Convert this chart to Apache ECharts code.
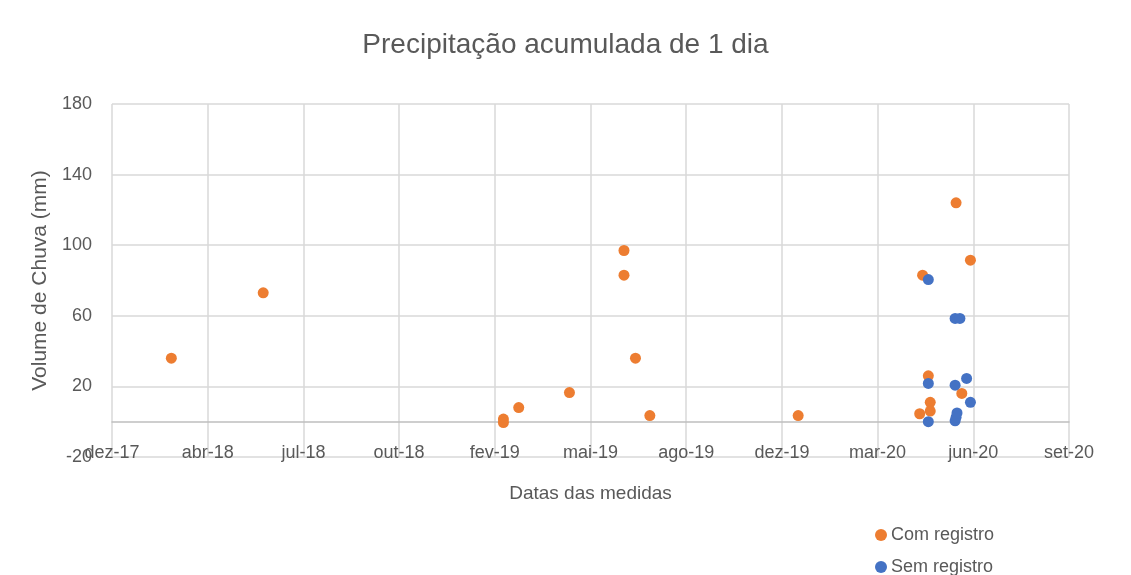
<!DOCTYPE html>
<html>
<head>
<meta charset="utf-8">
<title>Precipitação acumulada de 1 dia</title>
<script src="https://cdn.jsdelivr.net/npm/echarts@6/dist/echarts.min.js"></script>
<style>
    html, body {margin: 0; padding: 0; background: #fff;}
    #chart {width: 1131px; height: 575px;}
</style>
</head>
<body>
<div id="chart"></div>
<script>
// datas das medidas (com registro)
let comDates = ["2018-03-03", "2018-06-07", "2019-02-13", "2019-02-13", "2019-03-01", "2019-04-23",
    "2019-06-19", "2019-06-19", "2019-07-01", "2019-07-16", "2019-12-18", "2020-04-26", "2020-05-02",
    "2020-05-04", "2020-05-04", "2020-04-23", "2020-05-31", "2020-06-06", "2020-06-15"];
let comValues = [36, 73, 1.5, -0.5, 8, 16.5, 97, 83, 36, 3.5, 3.5, 83, 26, 11, 6, 4.5, 124, 16, 91.5];

// datas das medidas (sem registro)
let semDates = ["2020-05-02", "2020-05-02", "2020-05-02", "2020-05-30", "2020-06-04", "2020-05-30",
    "2020-06-11", "2020-06-15", "2020-05-30", "2020-05-31", "2020-06-01"];
let semValues = [80.5, 21.7, 0, 58.5, 58.5, 20.7, 24.5, 11, 0.5, 2.5, 5];

let monthNames = ["jan", "fev", "mar", "abr", "mai", "jun", "jul", "ago", "set", "out", "nov", "dez"];

// eixo x em numero de serie do Excel (dias desde 1899-12-30)
let xMin = 43100;
let xMax = 44100;
let xStep = 100;
let yTicks = [-20, 20, 60, 100, 140, 180];

function toSerial(str) {
    let p = str.split("-");
    return Math.round((Date.UTC(+p[0], +p[1] - 1, +p[2]) - Date.UTC(1899, 11, 30)) / 86400000);
}

function serialLabel(v) {
    let d = new Date(Date.UTC(1899, 11, 30) + v * 86400000);
    return monthNames[d.getUTCMonth()] + "-" + String(d.getUTCFullYear()).substr(2);
}

function buildPoints(dates, values) {
    let list = [];
    for (let i = 0; i < dates.length; i++) {
        list.push([toSerial(dates[i]), values[i]]);
    }
    return list;
}

let textColor = "#595959";
let font = "Liberation Sans";

var myChart = echarts.init(document.getElementById("chart"));
let option = {
    animation: false,
    title: {
        text: "Precipitação acumulada de 1 dia",
        left: "center",
        top: 26,
        textStyle: {fontFamily: font, fontSize: 28, fontWeight: "normal", color: textColor}
    },
    grid: {left: 112, right: 62, top: 104, bottom: 118},
    legend: {
        orient: "vertical",
        left: 870,
        top: 520,
        height: 60,
        itemGap: 12,
        itemWidth: 12,
        itemHeight: 12,
        icon: "circle",
        textStyle: {fontFamily: font, fontSize: 18, lineHeight: 20, color: textColor, padding: [0, 0, 0, -1]},
        data: ["Com registro", "Sem registro"]
    },
    xAxis: {
        type: "value",
        min: xMin,
        max: xMax,
        interval: xStep,
        name: "Datas das medidas",
        nameLocation: "middle",
        nameGap: 27,
        nameTextStyle: {fontFamily: font, fontSize: 19, color: textColor},
        axisLine: {onZero: true, lineStyle: {color: "#bfbfbf", width: 1.5}},
        axisTick: {show: false},
        axisLabel: {
            margin: -13,
            fontFamily: font,
            fontSize: 18,
            color: textColor,
            formatter: serialLabel
        },
        splitLine: {show: true, lineStyle: {color: "#d9d9d9", width: 1.5}}
    },
    yAxis: {
        type: "value",
        min: yTicks[0],
        max: yTicks[yTicks.length - 1],
        interval: yTicks[1] - yTicks[0],
        name: "Volume de Chuva (mm)",
        nameLocation: "middle",
        nameGap: 60,
        nameTextStyle: {fontFamily: font, fontSize: 21, color: textColor},
        axisLine: {show: false},
        axisTick: {show: false},
        axisLabel: {margin: 20, fontFamily: font, fontSize: 18, color: textColor},
        splitLine: {show: true, lineStyle: {color: "#d9d9d9", width: 1.5}}
    },
    series: [
        {
            name: "Com registro",
            type: "scatter",
            symbolSize: 11,
            itemStyle: {color: "#ed7d31", opacity: 1},
            data: buildPoints(comDates, comValues)
        },
        {
            name: "Sem registro",
            type: "scatter",
            symbolSize: 11,
            itemStyle: {color: "#4472c4", opacity: 1},
            data: buildPoints(semDates, semValues)
        }
    ]
};
myChart.setOption(option);
</script>
</body>
</html>
